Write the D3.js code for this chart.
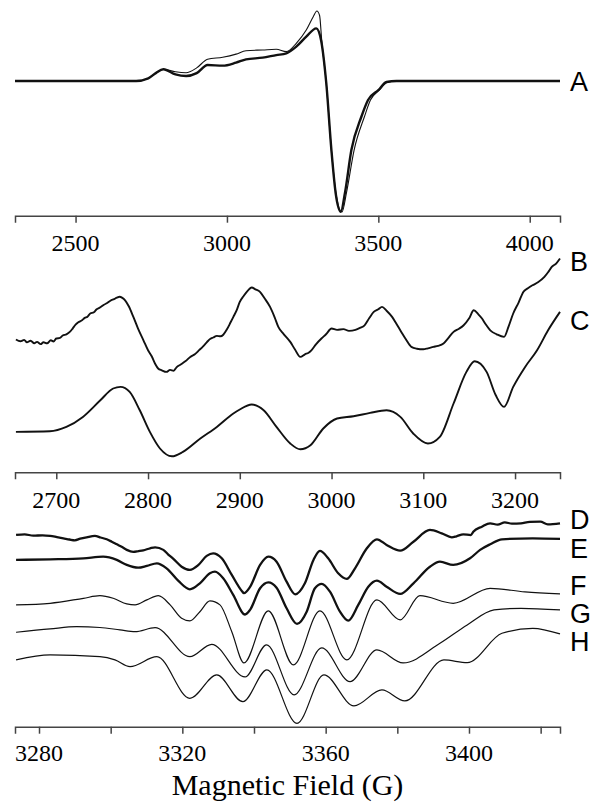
<!DOCTYPE html>
<html>
<head>
<meta charset="utf-8">
<script src="https://cdn.jsdelivr.net/npm/d3@7"></script>
<style>
  body { margin: 0; background: #fff; }
  text.serif { font-family: "Liberation Serif", "Times New Roman", serif; }
</style>
</head>
<body>
<script>
// panel A: field (G), intensity (normalised to the big minimum)
const aThick = [[2300,0],[2700,0],[2740,0.02],[2765,0.06],[2790,0.09],[2830,0.05],[2865,0.038],[2900,0.06],[2936,0.122],[2986,0.117],[3030,0.14],[3063,0.165],[3118,0.178],[3163,0.198],[3196,0.211],[3229,0.262],[3262,0.338],[3295,0.402],[3311,0.31],[3328,-0.015],[3345,-0.527],[3359,-0.855],[3376,-0.998],[3390,-0.85],[3411,-0.527],[3444,-0.273],[3466,-0.145],[3500,-0.07],[3527,-0.008],[3560,0],[4100,0]];
const aThin = [[2300,0],[2700,0],[2740,0.02],[2765,0.06],[2790,0.09],[2830,0.07],[2865,0.063],[2900,0.10],[2936,0.166],[2986,0.181],[3030,0.205],[3063,0.231],[3118,0.237],[3163,0.242],[3196,0.224],[3229,0.288],[3262,0.389],[3285,0.49],[3297,0.534],[3306,0.5],[3313,0.31],[3328,-0.015],[3345,-0.527],[3360,-0.855],[3380,-1.0],[3395,-0.85],[3420,-0.527],[3454,-0.273],[3474,-0.145],[3503,-0.07],[3530,-0.01],[3565,0],[4100,0]];

// panel B/C
const bData = [[2656,0.664],[2661,0.655],[2665,0.662],[2668,0.650],[2672,0.658],[2676,0.645],[2679,0.652],[2683,0.641],[2686,0.650],[2690,0.645],[2694,0.660],[2697,0.654],[2700,0.669],[2704,0.672],[2707,0.684],[2711,0.690],[2715,0.703],[2718,0.720],[2721,0.738],[2724,0.750],[2728,0.760],[2731,0.772],[2734,0.778],[2737,0.794],[2741,0.800],[2744,0.815],[2748,0.825],[2752,0.838],[2755,0.845],[2759,0.858],[2763,0.866],[2766,0.873],[2769,0.878],[2772,0.872],[2775,0.860],[2779,0.830],[2784,0.777],[2789,0.720],[2795,0.660],[2800,0.610],[2804,0.580],[2808,0.540],[2811,0.519],[2815,0.510],[2820,0.502],[2824,0.512],[2828,0.508],[2831,0.525],[2836,0.540],[2841,0.556],[2846,0.577],[2851,0.590],[2856,0.612],[2860,0.630],[2864,0.650],[2868,0.668],[2871,0.674],[2875,0.682],[2879,0.680],[2882,0.688],[2886,0.715],[2890,0.750],[2893,0.777],[2897,0.815],[2900,0.852],[2904,0.880],[2909,0.910],[2913,0.924],[2917,0.915],[2922,0.902],[2927,0.870],[2933,0.827],[2938,0.775],[2942,0.727],[2948,0.690],[2955,0.652],[2960,0.615],[2966,0.577],[2971,0.590],[2975,0.598],[2978,0.610],[2983,0.640],[2989,0.669],[2994,0.690],[3000,0.719],[3006,0.712],[3013,0.716],[3019,0.707],[3026,0.712],[3031,0.722],[3036,0.735],[3041,0.770],[3046,0.802],[3051,0.815],[3055,0.827],[3060,0.808],[3066,0.777],[3071,0.740],[3076,0.702],[3081,0.665],[3087,0.627],[3093,0.618],[3100,0.615],[3105,0.620],[3111,0.627],[3116,0.632],[3122,0.644],[3127,0.670],[3133,0.702],[3139,0.718],[3144,0.735],[3150,0.770],[3155,0.810],[3160,0.790],[3164,0.769],[3168,0.740],[3173,0.710],[3180,0.690],[3188,0.677],[3193,0.730],[3198,0.794],[3204,0.850],[3209,0.902],[3214,0.920],[3219,0.935],[3225,0.950],[3232,0.977],[3236,1.000],[3240,1.027],[3245,1.045],[3249,1.069]];
const cData = [[2656,0.202],[2693,0.205],[2711,0.227],[2729,0.277],[2748,0.36],[2762,0.419],[2770,0.427],[2780,0.402],[2791,0.31],[2802,0.202],[2813,0.119],[2826,0.08],[2838,0.102],[2857,0.169],[2875,0.227],[2893,0.294],[2900,0.314],[2913,0.339],[2926,0.31],[2940,0.227],[2955,0.144],[2966,0.115],[2977,0.135],[2991,0.219],[3006,0.269],[3024,0.28],[3042,0.297],[3060,0.31],[3075,0.277],[3089,0.194],[3105,0.144],[3118,0.177],[3133,0.344],[3147,0.502],[3156,0.555],[3169,0.502],[3179,0.385],[3188,0.327],[3198,0.427],[3211,0.527],[3224,0.61],[3236,0.71],[3249,0.802]];

// panel D-H
const dData = [[3273.6,0.959],[3276,0.962],[3278.4,0.955],[3281,0.957],[3283.1,0.954],[3285,0.948],[3286.8,0.942],[3288.5,0.936],[3290,0.932],[3291.5,0.940],[3293.3,0.947],[3295.6,0.954],[3297.2,0.946],[3298.9,0.937],[3300.3,0.925],[3301.7,0.912],[3303.2,0.898],[3304.5,0.884],[3306.3,0.874],[3307.8,0.878],[3309.1,0.882],[3311,0.892],[3312.4,0.897],[3314.7,0.884],[3316,0.862],[3317.5,0.839],[3319.8,0.80],[3322.1,0.784],[3324.5,0.809],[3326.8,0.854],[3328.6,0.867],[3331,0.842],[3333.8,0.759],[3336.6,0.679],[3337.2,0.668],[3338.9,0.699],[3341.7,0.809],[3344,0.85],[3346.3,0.825],[3349.1,0.725],[3351.5,0.662],[3354.2,0.717],[3356.6,0.834],[3358.4,0.879],[3360.7,0.842],[3363.5,0.767],[3365.9,0.739],[3368.2,0.792],[3371.5,0.892],[3374.3,0.937],[3377,0.909],[3380.8,0.88],[3384.5,0.925],[3389.1,0.984],[3392.4,0.967],[3395.2,0.947],[3396.5,0.952],[3398.4,0.962],[3400.5,0.958],[3401.2,0.975],[3403.6,1.0],[3405.9,1.017],[3408,1.010],[3410,1.022],[3412,1.015],[3414.5,1.017],[3417,1.024],[3419.9,1.025],[3422,1.012],[3425.4,1.017]];
const eData = [[3273.6,0.834],[3283.1,0.837],[3292.4,0.842],[3297.9,0.85],[3301.7,0.834],[3304.5,0.809],[3307.7,0.795],[3310.1,0.804],[3312.9,0.817],[3315.6,0.792],[3318.9,0.729],[3322.1,0.687],[3324.9,0.717],[3327.7,0.767],[3329.1,0.775],[3331.4,0.742],[3334.2,0.659],[3337.5,0.561],[3338.9,0.584],[3341.7,0.692],[3344,0.722],[3346.3,0.695],[3349.1,0.592],[3352,0.514],[3354.7,0.575],[3357,0.692],[3358.9,0.714],[3361.2,0.675],[3364,0.575],[3366.3,0.53],[3369.1,0.609],[3371.9,0.70],[3374.3,0.73],[3377,0.70],[3380.8,0.664],[3384.5,0.717],[3389.1,0.80],[3391.9,0.825],[3395.6,0.809],[3400.3,0.842],[3403.1,0.884],[3405.9,0.912],[3409.2,0.937],[3417.8,0.942],[3425.4,0.939]];
const fData = [[3273.6,0.609],[3283.1,0.617],[3292.4,0.642],[3297,0.655],[3300.7,0.642],[3304.5,0.614],[3306.8,0.609],[3310.1,0.634],[3313.3,0.655],[3316.6,0.609],[3319.8,0.542],[3322.1,0.529],[3324.9,0.575],[3327.7,0.629],[3330.5,0.609],[3333.8,0.475],[3337.2,0.319],[3344,0.579],[3351,0.309],[3358.4,0.579],[3365.9,0.334],[3374.3,0.634],[3380.8,0.534],[3386.3,0.655],[3395.6,0.617],[3405.9,0.692],[3415.6,0.674],[3425.4,0.664]];
const gData = [[3273.6,0.472],[3283.1,0.489],[3290.5,0.50],[3297,0.496],[3302.6,0.484],[3306.8,0.475],[3312.4,0.495],[3322.1,0.35],[3328.2,0.412],[3337.5,0.249],[3343.5,0.409],[3351.2,0.159],[3358.9,0.394],[3366.8,0.225],[3374.3,0.384],[3381.6,0.319],[3391.9,0.417],[3399.5,0.509],[3407,0.584],[3414.5,0.592],[3425.4,0.584]];
const hData = [[3273.6,0.334],[3283.1,0.359],[3297,0.35],[3301.2,0.334],[3305.4,0.30],[3312.9,0.35],[3322.1,0.142],[3329.6,0.259],[3336.9,0.125],[3343.6,0.284],[3352,0.017],[3359.5,0.259],[3367.9,0.104],[3375.7,0.184],[3382.1,0.129],[3393,0.334],[3399.5,0.32],[3409.2,0.467],[3417.8,0.492],[3425.4,0.464]];

const ticksA = [2500, 3000, 3500, 4000];
const ticksBC = [2700, 2800, 2900, 3000, 3100, 3200];
const ticksDH = [3280, 3300, 3320, 3340, 3360, 3380, 3400, 3420];
const labelsDH = [3280, 3320, 3360, 3400];
const traceLabels = [
  { text: "A", y: 91 }, { text: "B", y: 271 }, { text: "C", y: 329.5 },
  { text: "D", y: 529 }, { text: "E", y: 558 }, { text: "F", y: 594.5 },
  { text: "G", y: 623 }, { text: "H", y: 651 }
];

const width = 602, height = 808;
const left = 15, right = 560;

const svg = d3.select("body").append("svg")
    .attr("width", width)
    .attr("height", height);

const xA = d3.scaleLinear().domain([2300, 4100]).range([left, right]);
const yA = d3.scaleLinear().domain([-1, 0]).range([212, 81]);
const xBC = d3.scaleLinear().domain([2655, 3249]).range([left, right]);
const yBC = d3.scaleLinear().domain([0, 1]).range([472.3, 272.3]);
const xDH = d3.scaleLinear().domain([3273.3, 3425.4]).range([left, right]);
const yDH = d3.scaleLinear().domain([0, 1]).range([726.7, 526.7]);

function drawLine(data, x, y, w) {
  svg.append("path")
      .datum(data)
      .attr("fill", "none")
      .attr("stroke", "#111")
      .attr("stroke-width", w)
      .attr("stroke-linejoin", "round")
      .attr("d", d3.line().x(d => x(d[0])).y(d => y(d[1])).curve(d3.curveMonotoneX));
}

drawLine(aThin, xA, yA, 1.1);
drawLine(aThick, xA, yA, 2.4);
drawLine(bData, xBC, yBC, 1.9);
drawLine(cData, xBC, yBC, 1.9);
drawLine(dData, xDH, yDH, 2.3);
drawLine(eData, xDH, yDH, 2.3);
drawLine(fData, xDH, yDH, 1.2);
drawLine(gData, xDH, yDH, 1.2);
drawLine(hData, xDH, yDH, 1.2);

// axis lines and ticks come from d3.axisBottom, the numbers are plain serif texts
function addAxis(x, y0, ticks, labels, baseline) {
  const g = svg.append("g")
      .attr("transform", `translate(0,${y0})`)
      .call(d3.axisBottom(x).tickValues(ticks).tickSizeOuter(0).tickSize(7).tickFormat(() => ""));
  g.selectAll(".domain, .tick line").attr("stroke", "#444").attr("stroke-width", 1.5);

  svg.append("g").selectAll("text")
    .data(labels)
    .enter().append("text")
      .attr("class", "serif")
      .attr("x", d => x(d))
      .attr("y", baseline)
      .attr("text-anchor", "middle")
      .attr("font-size", 24)
      .attr("fill", "#000")
      .text(d => d);
}

addAxis(xA, 215.7, ticksA, ticksA, 251);
addAxis(xBC, 472.3, ticksBC, ticksBC, 508);
addAxis(xDH, 726.7, ticksDH, labelsDH, 761);

svg.append("text")
    .attr("class", "serif")
    .attr("x", (left + right) / 2)
    .attr("y", 795)
    .attr("text-anchor", "middle")
    .attr("font-size", 30)
    .text("Magnetic Field (G)");

svg.selectAll(".trace-label")
  .data(traceLabels)
  .enter().append("text")
    .attr("class", "trace-label")
    .attr("x", 570)
    .attr("y", d => d.y)
    .style("font-family", "'Liberation Sans', Arial, sans-serif")
    .style("font-size", "27px")
    .text(d => d.text);
</script>
</body>
</html>
